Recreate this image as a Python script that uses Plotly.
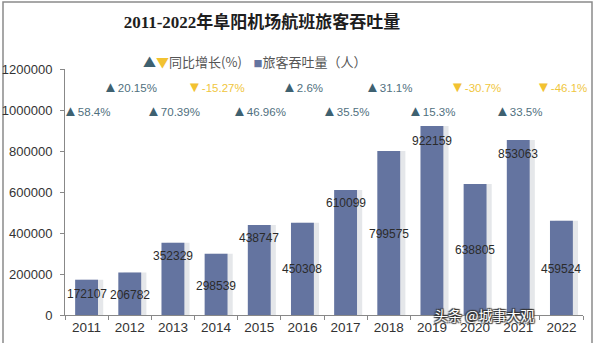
import plotly.graph_objects as go

years = ["2011", "2012", "2013", "2014", "2015", "2016", "2017", "2018", "2019", "2020", "2021", "2022"]
passengers = [172107, 206782, 352329, 298539, 438747, 450308, 610099, 799575, 922159, 638805, 853063, 459524]
growth = [58.4, 20.15, 70.39, -15.27, 46.96, 2.6, 35.5, 31.1, 15.3, -30.7, 33.5, -46.1]
growth_text = ["58.4%", "20.15%", "70.39%", "-15.27%", "46.96%", "2.6%", "35.5%", "31.1%", "15.3%", "-30.7%", "33.5%", "-46.1%"]
y_ticks = [0, 200000, 400000, 600000, 800000, 1000000, 1200000]

# styling: how far each value label sits below the bar top (data units)
label_drop = [70000, 110000, 65000, 158000, 65000, 227000, 66000, 402000, 72000, 323000, 66000, 236000]

BAR = "#6474a0"
UP = "#3e6170"
DOWN = "#f2c231"
UP_TXT = "#4f6f7e"
DOWN_TXT = "#f0c63c"

fig = go.Figure()
# soft shadow behind bars
fig.add_trace(go.Bar(
    x=years, y=passengers, marker=dict(color="rgba(110,120,140,0.18)", line=dict(width=0)),
    width=0.53, offset=-0.265 + 0.12, showlegend=False, hoverinfo="skip",
))
fig.add_trace(go.Bar(
    x=years, y=passengers, marker=dict(color=BAR, line=dict(width=0)),
    width=0.53, offset=-0.265, showlegend=False, hoverinfo="x+y",
))

ann = []
for i, v in enumerate(passengers):
    ann.append(dict(x=i, y=v - label_drop[i], xref="x", yref="y", text=str(v),
                    showarrow=False, font=dict(size=12, color="#2b2b2b", family="Arial")))

for i, (g, t) in enumerate(zip(growth, growth_text)):
    level = 1000000 if i % 2 == 0 else 1117000
    if g >= 0:
        txt = f"<span style='color:{UP};font-size:15px'>▲</span>{t}"
        col = UP_TXT
    else:
        txt = f"<span style='color:{DOWN};font-size:15px'>▼</span>{t}"
        col = DOWN_TXT
    ann.append(dict(x=i, y=level, xref="x", yref="y", text=txt, showarrow=False,
                    font=dict(size=11.5, color=col, family="Arial")))

# legend
ann.append(dict(
    x=(254 - 65) / 518, y=(315 - 50) / 246, xref="paper", yref="paper",
    text=f"<span style='color:{UP}'>▲</span><span style='color:{DOWN}'>▼</span>同比增长(%)"
         f"    <span style='color:{BAR};font-size:9px'>■</span>旅客吞吐量（人）",
    showarrow=False, font=dict(size=13, color="#555555", family="Noto Sans CJK SC"),
))

# watermark
ann.append(dict(
    x=(536 - 65) / 518, y=(315 - 327) / 246, xref="paper", yref="paper",
    text="头条 @城事大观", showarrow=False,
    font=dict(size=14, color="#ffffff", family="Noto Sans CJK SC",
              shadow="1px 1px 1px #333, -1px -1px 1px #333, 1px -1px 1px #333, -1px 1px 1px #333"),
))

fig.update_layout(
    width=595, height=343,
    margin=dict(l=65, r=12, t=69, b=28, autoexpand=False),
    paper_bgcolor="white", plot_bgcolor="white",
    barmode="overlay",
    title=dict(text="<b>2011-2022年阜阳机场航班旅客吞吐量</b>", x=262 / 595, xanchor="center",
               y=1 - 22 / 343, yanchor="middle",
               font=dict(size=17, color="#1e1e1e", family="Liberation Serif, Noto Sans CJK SC")),
    annotations=ann,
    xaxis=dict(
        type="category", showline=True, linecolor="#888888", linewidth=1,
        ticks="outside", tickson="boundaries", ticklen=4, tickcolor="#888888",
        tickfont=dict(size=13.5, color="#333333", family="Arial"), showgrid=False,
        range=[-0.5, 11.5], automargin=False,
    ),
    yaxis=dict(
        range=[0, 1200000], tickvals=y_ticks, ticktext=[str(v) for v in y_ticks],
        showline=True, linecolor="#888888", linewidth=1, ticks="outside", ticklen=4,
        tickcolor="#888888", showgrid=False, zeroline=False, ticklabelstandoff=5,
        tickfont=dict(size=13, color="#333333", family="Arial"), automargin=False,
    ),
    shapes=[dict(type="rect", xref="paper", yref="paper",
                 x0=(3 - 65) / 518, x1=(592 - 65) / 518,
                 y0=(315 - 350) / 246, y1=(315 - 2) / 246,
                 line=dict(color="#8a8a8a", width=1.5), fillcolor="rgba(0,0,0,0)", layer="below")],
)

fig.write_html("out.html")
